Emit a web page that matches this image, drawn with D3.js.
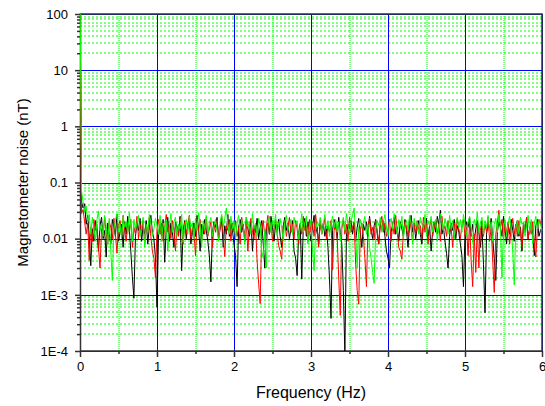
<!DOCTYPE html>
<html>
<head>
<meta charset="utf-8">
<script src="https://cdn.jsdelivr.net/npm/d3@7"></script>
<style>
  body { margin: 0; background: #fff; }
  text { font-family: Arial, "Liberation Sans", sans-serif; fill: #000; }
</style>
</head>
<body>
<div id="chart"></div>
<script>
// data: noise spectra, one value every 0.02 Hz
const freqStep = 0.02;
const xTicks = [0, 1, 2, 3, 4, 5, 6];
const xMinor = [0.5, 1.5, 2.5, 3.5, 4.5, 5.5];
const yTicks = [1e-4, 1e-3, 0.01, 0.1, 1, 10, 100];
const yTickLabels = ['1E-4', '1E-3', '0.01', '0.1', '1', '10', '100'];

const blackNoise = [
  300, 0.045, 0.035, 0.042, 0.018, 0.026, 0.011, 0.0033, 0.015, 0.009,
  0.021, 0.013, 0.006, 0.017, 0.024, 0.01, 0.014, 0.0047, 0.019, 0.012,
  0.008, 0.022, 0.016, 0.011, 0.027, 0.009, 0.013, 0.018, 0.007, 0.02,
  0.012, 0.025, 0.015, 0.006, 0.0021, 0.00087, 0.011, 0.019, 0.014, 0.023,
  0.009, 0.017, 0.012, 0.021, 0.008, 0.016, 0.026, 0.013, 0.01, 0.0045,
  0.0006, 0.012, 0.018, 0.011, 0.022, 0.0038, 0.015, 0.024, 0.009, 0.019,
  0.013, 0.007, 0.02, 0.016, 0.012, 0.025, 0.0027, 0.014, 0.021, 0.01,
  0.017, 0.023, 0.008, 0.013, 0.019, 0.011, 0.026, 0.015, 0.006, 0.018,
  0.012, 0.022, 0.014, 0.009, 0.005, 0.0017, 0.013, 0.02, 0.016, 0.024,
  0.01, 0.015, 0.021, 0.007, 0.017, 0.012, 0.027, 0.011, 0.019, 0.014,
  0.008, 0.005, 0.0014, 0.016, 0.022, 0.013, 0.018, 0.009, 0.024, 0.015,
  0.011, 0.02, 0.006, 0.017, 0.013, 0.023, 0.01, 0.016, 0.021, 0.008,
  0.003, 0.014, 0.019, 0.012, 0.025, 0.016, 0.009, 0.018, 0.013, 0.022,
  0.011, 0.007, 0.017, 0.024, 0.014, 0.019, 0.01, 0.015, 0.021, 0.006,
  0.0045, 0.0022, 0.013, 0.018, 0.0019, 0.016, 0.023, 0.011, 0.02, 0.014,
  0.009, 0.017, 0.026, 0.012, 0.016, 0.008, 0.021, 0.013, 0.019, 0.011,
  0.015, 0.007, 0.002, 0.00038, 0.014, 0.022, 0.017, 0.01, 0.024, 0.013,
  0.008, 0.0012, 0.00009, 0.011, 0.018, 0.015, 0.021, 0.012, 0.019, 0.009,
  0.016, 0.023, 0.013, 0.007, 0.018, 0.014, 0.02, 0.011, 0.025, 0.015,
  0.01, 0.017, 0.022, 0.012, 0.008, 0.019, 0.014, 0.021, 0.011, 0.006,
  0.0045, 0.003, 0.013, 0.018, 0.024, 0.012, 0.016, 0.009, 0.02, 0.015,
  0.011, 0.022, 0.014, 0.007, 0.017, 0.026, 0.013, 0.019, 0.01, 0.016,
  0.021, 0.012, 0.008, 0.018, 0.015, 0.023, 0.011, 0.017, 0.006, 0.014,
  0.02, 0.013, 0.025, 0.018, 0.032, 0.012, 0.016, 0.009, 0.0055, 0.003,
  0.011, 0.019, 0.014, 0.022, 0.01, 0.017, 0.013, 0.008, 0.005, 0.0014,
  0.012, 0.02, 0.016, 0.024, 0.011, 0.018, 0.009, 0.015, 0.021, 0.013,
  0.007, 0.017, 0.0035, 0.00048, 0.012, 0.019, 0.014, 0.023, 0.01, 0.0045,
  0.0018, 0.013, 0.02, 0.016, 0.011, 0.025, 0.015, 0.008, 0.018, 0.012,
  0.022, 0.014, 0.009, 0.017, 0.021, 0.011, 0.016, 0.006, 0.019, 0.013,
  0.024, 0.01, 0.015, 0.02, 0.012, 0.005, 0.017, 0.022, 0.011, 0.014,
  0.016
];

const redNoise = [
  150, 0.028, 0.033, 0.02, 0.012, 0.019, 0.0041, 0.016, 0.009, 0.022,
  0.014, 0.018, 0.007, 0.003, 0.015, 0.011, 0.024, 0.013, 0.008, 0.02,
  0.016, 0.01, 0.023, 0.012, 0.0055, 0.017, 0.021, 0.011, 0.026, 0.014,
  0.009, 0.019, 0.013, 0.022, 0.007, 0.016, 0.012, 0.025, 0.01, 0.018,
  0.014, 0.021, 0.008, 0.017, 0.013, 0.024, 0.011, 0.006, 0.0045, 0.002,
  0.015, 0.022, 0.012, 0.019, 0.009, 0.016, 0.027, 0.013, 0.018, 0.01,
  0.021, 0.014, 0.006, 0.017, 0.011, 0.023, 0.015, 0.008, 0.02, 0.012,
  0.018, 0.026, 0.01, 0.016, 0.013, 0.005, 0.019, 0.014, 0.022, 0.009,
  0.017, 0.012, 0.024, 0.011, 0.015, 0.02, 0.007, 0.018, 0.013, 0.021,
  0.01, 0.016, 0.025, 0.012, 0.0048, 0.017, 0.014, 0.022, 0.009, 0.019,
  0.013, 0.021, 0.011, 0.016, 0.008, 0.024, 0.015, 0.012, 0.019, 0.006,
  0.017, 0.023, 0.013, 0.01, 0.018, 0.004, 0.0016, 0.0007, 0.014, 0.021,
  0.011, 0.016, 0.026, 0.012, 0.019, 0.009, 0.015, 0.022, 0.013, 0.0075,
  0.006, 0.0043, 0.017, 0.02, 0.011, 0.016, 0.024, 0.013, 0.018, 0.01,
  0.021, 0.015, 0.008, 0.019, 0.012, 0.025, 0.014, 0.017, 0.009, 0.022,
  0.013, 0.018, 0.011, 0.027, 0.015, 0.007, 0.02, 0.012, 0.016, 0.023,
  0.01, 0.017, 0.013, 0.021, 0.0028, 0.014, 0.019, 0.011, 0.002, 0.00043,
  0.015, 0.022, 0.012, 0.018, 0.009, 0.024, 0.013, 0.016, 0.02, 0.0035,
  0.0012, 0.00068, 0.014, 0.019, 0.011, 0.0045, 0.0014, 0.017, 0.023, 0.012,
  0.016, 0.01, 0.021, 0.014, 0.008, 0.018, 0.025, 0.013, 0.019, 0.011,
  0.015, 0.022, 0.009, 0.017, 0.012, 0.026, 0.014, 0.007, 0.006, 0.0043,
  0.013, 0.02, 0.016, 0.011, 0.023, 0.015, 0.009, 0.018, 0.012, 0.021,
  0.014, 0.017, 0.01, 0.024, 0.013, 0.019, 0.008, 0.016, 0.022, 0.011,
  0.015, 0.02, 0.012, 0.018, 0.009, 0.025, 0.014, 0.017, 0.011, 0.021,
  0.013, 0.016, 0.007, 0.019, 0.012, 0.023, 0.015, 0.01, 0.018, 0.022,
  0.011, 0.016, 0.005, 0.02, 0.004, 0.0014, 0.012, 0.0025, 0.017, 0.003,
  0.014, 0.021, 0.011, 0.018, 0.013, 0.024, 0.009, 0.016, 0.004, 0.0011,
  0.012, 0.019, 0.032, 0.015, 0.022, 0.01, 0.017, 0.013, 0.02, 0.008,
  0.016, 0.023, 0.012, 0.018, 0.011, 0.021, 0.014, 0.007, 0.019, 0.013,
  0.024, 0.01, 0.016, 0.012, 0.02, 0.008, 0.0047, 0.015, 0.022, 0.018,
  0.027
];

const greenNoise = [
  500, 0.07, 0.045, 0.03, 0.038, 0.02, 0.027, 0.012, 0.024, 0.016,
  0.009, 0.022, 0.031, 0.014, 0.019, 0.011, 0.026, 0.017, 0.008, 0.023,
  0.006, 0.0018, 0.015, 0.021, 0.028, 0.013, 0.018, 0.01, 0.025, 0.016,
  0.02, 0.012, 0.029, 0.017, 0.009, 0.022, 0.014, 0.019, 0.026, 0.011,
  0.016, 0.024, 0.007, 0.018, 0.013, 0.027, 0.02, 0.011, 0.015, 0.023,
  0.017, 0.012, 0.026, 0.009, 0.019, 0.014, 0.022, 0.006, 0.016, 0.028,
  0.013, 0.02, 0.024, 0.011, 0.018, 0.015, 0.027, 0.0085, 0.017, 0.022,
  0.012, 0.025, 0.016, 0.019, 0.01, 0.023, 0.014, 0.029, 0.018, 0.007,
  0.021, 0.015, 0.026, 0.012, 0.019, 0.024, 0.011, 0.017, 0.022, 0.014,
  0.009, 0.02, 0.027, 0.016, 0.023, 0.035, 0.018, 0.012, 0.025, 0.015,
  0.021, 0.01, 0.019, 0.026, 0.013, 0.022, 0.017, 0.008, 0.024, 0.016,
  0.02, 0.012, 0.028, 0.015, 0.019, 0.011, 0.023, 0.017, 0.006, 0.0045,
  0.014, 0.003, 0.018, 0.025, 0.013, 0.021, 0.016, 0.027, 0.011, 0.019,
  0.023, 0.015, 0.009, 0.02, 0.026, 0.014, 0.018, 0.022, 0.012, 0.024,
  0.017, 0.021, 0.01, 0.016, 0.028, 0.013, 0.019, 0.025, 0.008, 0.015,
  0.022, 0.006, 0.0027, 0.014, 0.02, 0.017, 0.024, 0.012, 0.018, 0.027,
  0.015, 0.021, 0.011, 0.019, 0.025, 0.016, 0.022, 0.013, 0.02, 0.009,
  0.017, 0.024, 0.014, 0.028, 0.018, 0.012, 0.021, 0.026, 0.035, 0.011,
  0.003, 0.016, 0.022, 0.015, 0.019, 0.025, 0.012, 0.018, 0.007, 0.0045,
  0.0025, 0.0016, 0.014, 0.021, 0.017, 0.024, 0.013, 0.02, 0.027, 0.016,
  0.011, 0.019, 0.023, 0.015, 0.028, 0.018, 0.012, 0.022, 0.016, 0.025,
  0.01, 0.017, 0.021, 0.014, 0.026, 0.019, 0.008, 0.023, 0.016, 0.02,
  0.012, 0.024, 0.018, 0.015, 0.027, 0.011, 0.021, 0.017, 0.025, 0.013,
  0.019, 0.022, 0.009, 0.016, 0.028, 0.02, 0.014, 0.023, 0.018, 0.012,
  0.026, 0.015, 0.021, 0.01, 0.019, 0.024, 0.016, 0.022, 0.013, 0.027,
  0.018, 0.011, 0.02, 0.025, 0.015, 0.0085, 0.022, 0.017, 0.029, 0.013,
  0.019, 0.024, 0.012, 0.021, 0.016, 0.026, 0.014, 0.02, 0.009, 0.018,
  0.023, 0.013, 0.027, 0.017, 0.002, 0.015, 0.022, 0.011, 0.019, 0.025,
  0.014, 0.006, 0.0015, 0.016, 0.021, 0.012, 0.024, 0.018, 0.02, 0.011,
  0.017, 0.026, 0.013, 0.022, 0.008, 0.019, 0.025, 0.015, 0.021, 0.018,
  0.014
];

const series = [
  { name: 'black', color: '#000000', values: blackNoise },
  { name: 'red', color: '#ff0000', values: redNoise },
  { name: 'green', color: '#00ff00', values: greenNoise },
];

const width = 545;
const height = 406;
const margin = { top: 14, right: 3, bottom: 55, left: 80 };
const innerW = width - margin.left - margin.right;
const innerH = height - margin.top - margin.bottom;

const svg = d3.select('div#chart').append('svg').attr('width', width).attr('height', height);
const g = svg.append('g').attr('transform', `translate(${margin.left},${margin.top})`);

const x = d3.scaleLinear().domain([0, 6]).range([0, innerW]);
const y = d3.scaleLog().domain([1e-4, 100]).range([innerH, 0]);

// minor y values (2..9 per decade)
const yMinor = [];
yTicks.slice(0, -1).forEach(d => { for (let k = 2; k <= 9; k++) yMinor.push(d * k); });

// grid: minor dotted green (soft, straddling two pixels), major blue
const grid = g.append('g').attr('class', 'grid');
grid.selectAll('line.ymin').data(yMinor).enter().append('line').attr('class', 'ymin')
  .attr('x1', 0).attr('x2', innerW)
  .attr('y1', d => Math.round(y(d))).attr('y2', d => Math.round(y(d)))
  .attr('stroke', '#00ff00').attr('stroke-width', 1).attr('stroke-dasharray', '2,2');
grid.selectAll('line.xmin').data(xMinor).enter().append('line').attr('class', 'xmin')
  .attr('y1', 0).attr('y2', innerH)
  .attr('x1', d => Math.round(x(d))).attr('x2', d => Math.round(x(d)))
  .attr('stroke', '#00ff00').attr('stroke-width', 1).attr('stroke-dasharray', '1,1');
grid.selectAll('line.ymaj').data(yTicks).enter().append('line').attr('class', 'ymaj')
  .attr('x1', 0).attr('x2', innerW)
  .attr('y1', d => Math.round(y(d)) + 0.5).attr('y2', d => Math.round(y(d)) + 0.5)
  .attr('stroke', '#0000ff').attr('stroke-width', 1);
grid.selectAll('line.xmaj').data(xTicks).enter().append('line').attr('class', 'xmaj')
  .attr('y1', 0).attr('y2', innerH)
  .attr('x1', d => Math.round(x(d)) + 0.5).attr('x2', d => Math.round(x(d)) + 0.5)
  .attr('stroke', '#0000ff').attr('stroke-width', 1);

// frame
g.append('rect').attr('x', 0.5).attr('y', 0).attr('width', innerW - 0.5).attr('height', innerH)
  .attr('fill', 'none').attr('stroke', '#333').attr('stroke-width', 1.5);

// lines (drawn over the frame, as in the original)
svg.append('clipPath').attr('id', 'plotClip').append('rect')
  .attr('x', 0).attr('y', 0).attr('width', innerW + 1).attr('height', innerH);
const lineGroup = g.append('g').attr('clip-path', 'url(#plotClip)');
const line = d3.line().x((d, i) => x(i * freqStep)).y(d => y(d));
lineGroup.selectAll('path').data(series).enter().append('path')
  .attr('d', d => line(d.values))
  .attr('fill', 'none')
  .attr('stroke', d => d.color)
  .attr('stroke-width', 1);

// axes
const fmt = d3.scaleOrdinal().domain(yTicks).range(yTickLabels);
const yAxis = d3.axisLeft(y).tickValues(yTicks).tickFormat(d => fmt(d)).tickSize(5).tickPadding(7);
const yAxisMinor = d3.axisLeft(y).tickValues(yMinor).tickFormat('').tickSize(3);
const xAxis = d3.axisBottom(x).tickValues(xTicks).tickFormat(d3.format('d')).tickSize(6).tickPadding(5);
const xAxisMinor = d3.axisBottom(x).tickValues(xMinor).tickFormat('').tickSize(3);

g.append('g').call(yAxis);
g.append('g').call(yAxisMinor);
g.append('g').attr('transform', `translate(0,${innerH})`).call(xAxis);
g.append('g').attr('transform', `translate(0,${innerH})`).call(xAxisMinor);

g.selectAll('.domain').remove();
g.selectAll('.tick line').attr('stroke', '#333').attr('stroke-width', 1.5);
g.selectAll('.tick text').attr('font-size', 13).attr('fill', '#000')
  .style('font-family', 'Arial, "Liberation Sans", sans-serif');

// titles
svg.append('text')
  .attr('transform', `translate(${margin.left + innerW / 2},398)`)
  .attr('text-anchor', 'middle').attr('font-size', 16)
  .text('Frequency (Hz)');
svg.append('text')
  .attr('transform', `translate(28,${margin.top + innerH / 2}) rotate(-90)`)
  .attr('text-anchor', 'middle').attr('font-size', 15)
  .text('Magnetometer noise (nT)');
</script>
</body>
</html>
